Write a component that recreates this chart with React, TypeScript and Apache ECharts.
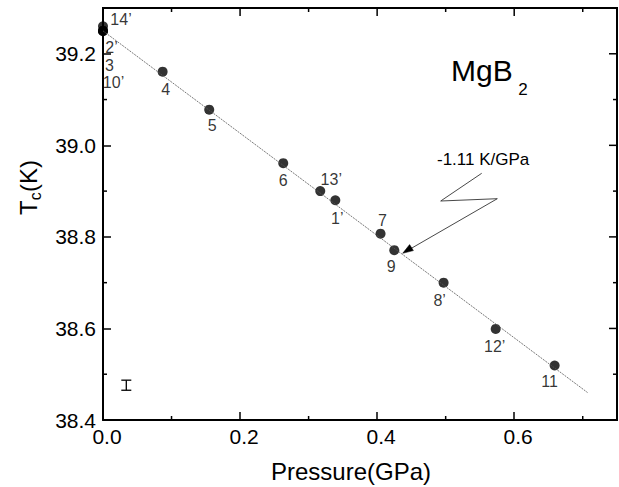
import React, { useEffect, useRef } from "react";
import * as echarts from "echarts";

// Sample data
const pressure = [0, 0, 0, 0, 0.087, 0.155, 0.263, 0.317, 0.339, 0.405, 0.425, 0.497, 0.573, 0.659];
const tc = [39.26, 39.25, 39.25, 39.25, 39.161, 39.078, 38.961, 38.9, 38.88, 38.807, 38.771, 38.7, 38.599, 38.519];
const sampleLabels = ["14’", "2’", "3", "10’", "4", "5", "6", "13’", "1’", "7", "9", "8’", "12’", "11"];

// Linear fit (-1.11 K/GPa)
const fitPressure = [0, 0.707];
const fitTc = [39.25, 38.46];

// Typical error bar
const errorBar = [0.034, 38.476, 0.011];

// Axis ranges and ticks
const xRange = [0, 0.75];
const yRange = [38.4, 39.3];
const xMajorTicks = [0, 0.2, 0.4, 0.6];
const xMinorTicks = [0.1, 0.3, 0.5, 0.7];
const yMajorTicks = [38.4, 38.6, 38.8, 39.0, 39.2];
const yMinorTicks = [38.5, 38.7, 38.9, 39.1];
const xTickLabels = ["0.0", "0.2", "0.4", "0.6"];
const yTickLabels = ["38.4", "38.6", "38.8", "39.0", "39.2"];

// label placement (pixels, relative to point)
const labelOffsets: number[][] = [
  [18, -7], [8.5, 17], [6.5, 35], [10.5, 52], [3, 18], [3, 16], [0, 17],
  [11, -12], [2, 18], [2, -13], [-3, 16], [-4, 18], [-1, 18], [-5, 16],
];

const FONT = "'Liberation Sans', Arial, Helvetica, sans-serif";
const MAJOR_LEN = 8;
const MINOR_LEN = 4;

export default function App() {
  const ref = useRef<HTMLDivElement>(null);
  useEffect(() => {
    if (!ref.current) return;
    const chart = echarts.init(ref.current, undefined, { renderer: "svg" });
    const gridRect = { left: 103, top: 8, width: 514, height: 412 };
    const fmtX = (v: number) => {
      const s = v.toFixed(1);
      return xTickLabels.includes(s) ? s : "";
    };
    const fmtY = (v: number) => {
      const s = v.toFixed(1);
      return yTickLabels.includes(s) ? s : "";
    };

    const staticGraphic: any[] = [
      {
        type: "text", x: 451, y: 70,
        style: { text: "MgB", font: `30px ${FONT}`, fill: "#000", textAlign: "left", textVerticalAlign: "middle" },
      },
      {
        type: "text", x: 523, y: 89,
        style: { text: "2", font: `17px ${FONT}`, fill: "#000", textAlign: "center", textVerticalAlign: "middle" },
      },
      {
        type: "text", x: 437, y: 159,
        style: { text: "-1.11 K/GPa", font: `17px ${FONT}`, fill: "#000", textAlign: "left", textVerticalAlign: "middle" },
      },
      {
        type: "text", x: 351, y: 471,
        style: { text: "Pressure(GPa)", font: `24px ${FONT}`, fill: "#000", textAlign: "center", textVerticalAlign: "middle" },
      },
      {
        type: "group", x: 28, y: 215, rotation: Math.PI / 2,
        children: [
          { type: "text", x: 0, y: 0, style: { text: "T", font: `24px ${FONT}`, fill: "#000", textAlign: "left", textVerticalAlign: "middle" } },
          { type: "text", x: 14.7, y: 7, style: { text: "c", font: `16px ${FONT}`, fill: "#000", textAlign: "left", textVerticalAlign: "middle" } },
          { type: "text", x: 23, y: 0, style: { text: "(K)", font: `24px ${FONT}`, fill: "#000", textAlign: "left", textVerticalAlign: "middle" } },
        ],
      },
      {
        type: "polyline",
        shape: { points: [[481.7, 173.3], [440.7, 201], [497.3, 198.7], [406, 251.4]] },
        style: { stroke: "#333", lineWidth: 0.9 },
      },
      {
        type: "polygon",
        shape: { points: [[402.7, 253.3], [413.4, 250.6], [409.6, 244.6]] },
        style: { fill: "#000", stroke: "#000", lineWidth: 0.5 },
      },
    ];

    const option: any = {
      animation: false,
      grid: [{ ...gridRect, containLabel: false, outerBoundsMode: "none" }],
      xAxis: [
        {
          type: "value", min: xRange[0], max: xRange[1], interval: 0.2,
          splitLine: { show: false },
          axisLine: { show: true, onZero: false, lineStyle: { color: "#000", width: 2 } },
          axisTick: { show: true, inside: true, length: MAJOR_LEN, lineStyle: { color: "#000", width: 1.5 } },
          axisLabel: {
            show: true, formatter: fmtX, showMaxLabel: false, margin: 6,
            color: "#000", fontSize: 21, fontFamily: FONT, padding: [0, 0, 0, 8],
          },
        },
      ],
      yAxis: [
        {
          type: "value", min: yRange[0], max: yRange[1], interval: 0.2,
          splitLine: { show: false },
          axisLine: { show: true, onZero: false, lineStyle: { color: "#000", width: 2 } },
          axisTick: { show: true, inside: true, length: MAJOR_LEN, lineStyle: { color: "#000", width: 1.5 } },
          axisLabel: {
            show: true, formatter: fmtY, showMaxLabel: false, margin: 7,
            color: "#000", fontSize: 21, fontFamily: FONT,
          },
        },
      ],
      series: [
        {
          type: "line",
          data: fitPressure.map((p, i) => [p, fitTc[i]]),
          symbol: "none",
          lineStyle: { color: "#555", width: 0.8, type: [2, 1] },
        },
        {
          type: "scatter",
          symbol: "circle",
          symbolSize: 10,
          itemStyle: { color: "#000" },
          clip: false,
          data: pressure.map((p, i) => ({
            value: [p, tc[i]],
            name: sampleLabels[i],
            label: {
              show: true,
              position: "inside",
              offset: labelOffsets[i],
              formatter: sampleLabels[i],
              color: "#000",
              textBorderWidth: 0,
              fontSize: 16,
              fontFamily: FONT,
            },
          })),
        },
        {
          type: "custom",
          clip: false,
          data: [errorBar],
          renderItem: (params: any, api: any) => {
            const x = api.value(0);
            const y = api.value(1);
            const e = api.value(2);
            const top = api.coord([x, y + e]);
            const bot = api.coord([x, y - e]);
            const hw = 5;
            return {
              type: "group",
              children: [
                { type: "line", shape: { x1: top[0], y1: top[1], x2: bot[0], y2: bot[1] }, style: { stroke: "#000", lineWidth: 1.3 } },
                { type: "line", shape: { x1: top[0] - hw, y1: top[1], x2: top[0] + hw, y2: top[1] }, style: { stroke: "#000", lineWidth: 1.3 } },
                { type: "line", shape: { x1: bot[0] - hw, y1: bot[1], x2: bot[0] + hw, y2: bot[1] }, style: { stroke: "#000", lineWidth: 1.3 } },
              ],
            };
          },
        },
      ],
      graphic: staticGraphic,
    };
    chart.setOption(option);

    // Top and right frame edges plus their inward ticks, and minor ticks on all sides,
    // placed through the chart's own scales
    const toPx = (x: number, y: number) => chart.convertToPixel({ gridIndex: 0 }, [x, y]) as number[];
    const lineEl = (x1: number, y1: number, x2: number, y2: number, w: number) => ({
      type: "line",
      z: 100,
      silent: true,
      shape: { x1, y1, x2, y2 },
      style: { stroke: "#000", lineWidth: w },
    });
    const extra: any[] = [];
    const tl = toPx(xRange[0], yRange[1]);
    const tr = toPx(xRange[1], yRange[1]);
    const br = toPx(xRange[1], yRange[0]);
    extra.push(lineEl(tl[0] - 1, tl[1], tr[0] + 1, tr[1], 2));
    extra.push(lineEl(tr[0], tr[1], br[0], br[1] + 1, 2));
    const xTicks = [...xMajorTicks.map((v) => [v, MAJOR_LEN, 0]), ...xMinorTicks.map((v) => [v, MINOR_LEN, 1])];
    const yTicks = [...yMajorTicks.map((v) => [v, MAJOR_LEN, 0]), ...yMinorTicks.map((v) => [v, MINOR_LEN, 1])];
    xTicks.forEach(([v, len, minor]) => {
      const b = toPx(v, yRange[0]);
      const t = toPx(v, yRange[1]);
      if (minor) extra.push(lineEl(b[0], b[1], b[0], b[1] - len, 1.5));
      extra.push(lineEl(t[0], t[1], t[0], t[1] + len, 1.5));
    });
    yTicks.forEach(([v, len, minor]) => {
      const l = toPx(xRange[0], v);
      const r = toPx(xRange[1], v);
      if (minor) extra.push(lineEl(l[0], l[1], l[0] + len, l[1], 1.5));
      extra.push(lineEl(r[0], r[1], r[0] - len, r[1], 1.5));
    });
    chart.setOption({ graphic: [...staticGraphic, ...extra] });

    return () => chart.dispose();
  }, []);
  return (
    <div
      ref={ref}
      style={{ position: "fixed", left: 0, top: 0, width: 619, height: 487, background: "#fff" }}
    />
  );
}
